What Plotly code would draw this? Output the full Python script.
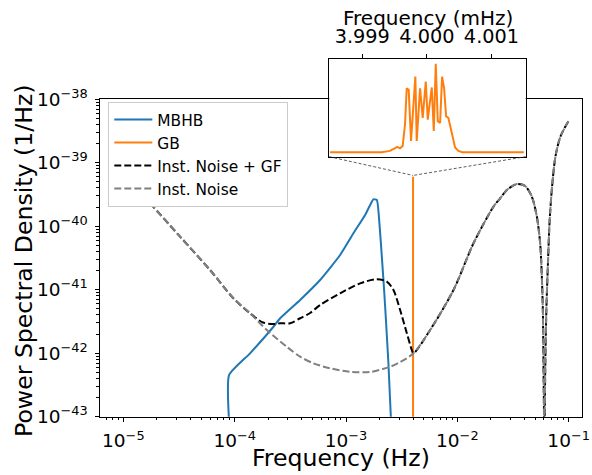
import math
import plotly.graph_objects as go

# ---------------- data ----------------
# Instrument noise PSD (gray dashed)
noise_f = [1.0e-5, 1.738e-5, 3.231e-5, 6.01e-5, 9.73e-5, 1.375e-4, 1.942e-4, 2.938e-4,
           3.869e-4, 5.095e-4, 7.196e-4, 1.088e-3, 1.646e-3, 2.489e-3, 3.06e-3,
           4.033e-3, 5.697e-3, 9.23e-3, 1.396e-2, 2.110e-2, 2.424e-2, 2.784e-2,
           3.424e-2, 4.065e-2, 4.67e-2, 5.18e-2, 5.545e-2, 5.74e-2, 5.86e-2, 5.936e-2,
           6.05e-2, 6.174e-2, 6.303e-2, 6.53e-2, 6.75e-2, 7.095e-2, 7.60e-2, 8.42e-2,
           9.96e-2]
noise_psd = [6.73e-40, 2.30e-40, 6.84e-41, 2.04e-41, 7.33e-42, 4.25e-42, 2.32e-42, 1.26e-42,
             8.81e-43, 6.93e-43, 5.78e-43, 5.11e-43, 5.06e-43, 6.12e-43, 7.26e-43,
             9.96e-43, 2.32e-42, 9.88e-42, 5.38e-41, 2.03e-40, 2.75e-40, 3.72e-40,
             4.62e-40, 4.30e-40, 2.92e-40, 1.41e-40, 5.38e-41, 1.60e-41, 4.79e-42, 7.81e-43,
             5.0e-44, 7.81e-43, 4.79e-42, 2.94e-41, 1.25e-40, 4.19e-40, 1.24e-39, 2.56e-39,
             4.54e-39]

# Instrument noise + galactic foreground (black dashed): middle part differs
gf_mid_f = [1.799e-4, 2.227e-4, 2.558e-4, 3.146e-4, 3.869e-4, 4.757e-4, 5.852e-4, 8.85e-4,
            1.338e-3, 1.891e-3, 2.326e-3, 2.667e-3, 3.062e-3, 3.518e-3, 3.902e-3]
gf_mid_psd = [3.04e-42, 2.88e-42, 2.96e-42, 2.96e-42, 3.55e-42, 4.30e-42, 5.74e-42, 8.77e-42,
              1.26e-41, 1.46e-41, 1.34e-41, 9.88e-42, 4.79e-42, 2.06e-42, 1.12e-42]

# MBHB signal PSD (blue)
mbhb_f = [8.90e-5, 8.91e-5, 1.374e-4, 2.23e-4, 2.56e-4, 3.87e-4, 5.85e-4, 8.85e-4, 1.165e-3,
          1.484e-3, 1.646e-3, 1.762e-3, 1.891e-3, 1.995e-3, 2.097e-3, 2.199e-3, 2.292e-3,
          2.403e-3, 2.527e-3, 2.55e-3]
mbhb_psd = [8.5e-44, 4.54e-43, 9.96e-43, 2.61e-42, 3.55e-42, 6.89e-42, 1.42e-41, 3.52e-41,
            7.73e-41, 1.50e-40, 2.16e-40, 2.65e-40, 2.59e-40, 1.11e-40, 3.31e-41, 9.88e-42,
            2.96e-42, 6.93e-43, 1.0e-43, 8.0e-44]

# Galactic binary PSD (orange), frequency in mHz
gb_f_mhz = [3.998500, 3.999300, 3.999429, 3.999507, 3.999543, 3.999584, 3.999626, 3.999662,
            3.999688, 3.999719, 3.999755, 3.999822, 3.999843, 3.999895, 3.999936, 3.999983,
            4.000014, 4.000076, 4.000107, 4.000138, 4.000169, 4.000205, 4.000236, 4.000267,
            4.000298, 4.000333, 4.000386, 4.000437, 4.000488, 4.000550, 4.001500]
gb_psd = [1e-47, 1e-47, 0.094e-40, 0.27e-40, 0.36e-40, 0.27e-40, 0.43e-40, 1.88e-40,
          4.34e-40, 4.23e-40, 0.77e-40, 5.13e-40, 0.77e-40, 4.34e-40, 2.33e-40, 4.79e-40,
          2.21e-40, 4.39e-40, 1.44e-40, 6.00e-40, 2.11e-40, 1.99e-40, 5.13e-40, 4.34e-40,
          2.44e-40, 2.33e-40, 1.32e-40, 0.32e-40, 0.09e-40, 1e-47, 1e-47]

x_tick_exp = [-5, -4, -3, -2, -1]
y_tick_exp = [-43, -42, -41, -40, -39, -38]
inset_ticks = [3.999, 4.000, 4.001]

# black curve: shares the noise curve outside the foreground region
n_left = sum(1 for f in noise_f if f < gf_mid_f[0])
n_right = sum(1 for f in noise_f if f <= gf_mid_f[-1])
gf_f = noise_f[:n_left] + gf_mid_f + noise_f[n_right:]
gf_psd = noise_psd[:n_left] + gf_mid_psd + noise_psd[n_right:]
gb_f_hz = [v / 1000.0 for v in gb_f_mhz]

# ---------------- layout geometry ----------------
W, H = 592, 475
xr = [-5.21, -0.883]
yr = [-43, -38]
xdom = [100 / W, 581.7 / W]
ydom = [(H - 416.7) / H, (H - 99.2) / H]
ixdom = [329.3 / W, 525.7 / W]
iydom = [(H - 156.7) / H, (H - 59.3) / H]
gmin, gmax = min(gb_psd), max(gb_psd)
span = gmax - gmin
iyr = [gmin - 0.05 * span, gmax + 0.05 * span]
ixr = [3.99849, 4.00153]

FONT = "DejaVu Sans"
BLUE, ORANGE = "#1f77b4", "#ff7f0e"

fig = go.Figure()
fig.add_trace(go.Scatter(x=mbhb_f, y=mbhb_psd, mode="lines", name="MBHB",
                         line=dict(color=BLUE, width=2, shape="spline", smoothing=0.5)))
fig.add_trace(go.Scatter(x=gb_f_hz, y=gb_psd, mode="lines", name="GB",
                         line=dict(color=ORANGE, width=2)))
fig.add_trace(go.Scatter(x=gf_f, y=gf_psd, mode="lines", name="Inst. Noise + GF",
                         line=dict(color="black", width=2, dash="7px,3px", shape="spline", smoothing=0.8)))
fig.add_trace(go.Scatter(x=noise_f, y=noise_psd, mode="lines", name="Inst. Noise",
                         line=dict(color="gray", width=2, dash="7px,3px", shape="spline", smoothing=0.8)))
fig.add_trace(go.Scatter(x=gb_f_mhz, y=gb_psd, mode="lines", showlegend=False,
                         line=dict(color=ORANGE, width=2), xaxis="x2", yaxis="y2"))


def sup(e):
    return "10<sup>" + ("\u2212" if e < 0 else "") + str(abs(e)) + "</sup>"


def minor_vals(lo, hi):
    vals = []
    for e in range(lo, hi + 1):
        for k in range(2, 10):
            vals.append(k * 10.0 ** e)
    return vals


axis_common = dict(showline=True, linecolor="black", linewidth=1, mirror=True,
                   ticks="outside", ticklen=4.5, tickwidth=1, tickcolor="black",
                   showgrid=False, zeroline=False, automargin=False)

fig.update_layout(
    width=W, height=H,
    margin=dict(l=0, r=0, t=0, b=0, autoexpand=False),
    paper_bgcolor="white", plot_bgcolor="white",
    template="none",
    font=dict(family=FONT, color="black", size=15.4),
    xaxis=dict(type="log", range=xr, domain=xdom, anchor="y",
               tickvals=[10.0 ** e for e in x_tick_exp],
               ticktext=[sup(e) for e in x_tick_exp],
               tickfont=dict(size=18.5), ticklabelstandoff=3,
               minor=dict(tickvals=minor_vals(-6, 0), ticks="outside", ticklen=2.6,
                          tickwidth=0.8, tickcolor="black"),
               **axis_common),
    yaxis=dict(type="log", range=yr, domain=ydom, anchor="x",
               tickvals=[10.0 ** e for e in y_tick_exp],
               ticktext=[sup(e) for e in y_tick_exp],
               tickfont=dict(size=18.5), ticklabelstandoff=3,
               minor=dict(tickvals=minor_vals(-44, -38), ticks="outside", ticklen=2.6,
                          tickwidth=0.8, tickcolor="black"),
               **axis_common),
    xaxis2=dict(range=ixr, domain=ixdom, anchor="y2", side="top",
                tickvals=inset_ticks, ticktext=["%.3f" % v for v in inset_ticks],
                tickfont=dict(size=19.3), ticklabelstandoff=3,
                **axis_common),
    yaxis2=dict(range=iyr, domain=iydom, anchor="x2", showticklabels=False,
                showline=True, linecolor="black", linewidth=1, mirror=True,
                ticks="", showgrid=False, zeroline=False, automargin=False),
    legend=dict(x=108.3 / W, y=(H - 102) / H, xanchor="left", yanchor="top",
                bgcolor="white", bordercolor="#cccccc", borderwidth=1,
                font=dict(family=FONT, size=15.4), traceorder="normal", itemwidth=38),
    showlegend=True,
)

# axis titles
fig.add_annotation(text="Frequency (Hz)", xref="paper", yref="paper",
                   x=(xdom[0] + xdom[1]) / 2, y=(H - 458) / H, xanchor="center", yanchor="middle",
                   showarrow=False, font=dict(size=23.6))
fig.add_annotation(text="Power Spectral Density (1/Hz)", xref="paper", yref="paper",
                   x=24 / W, y=(ydom[0] + ydom[1]) / 2 - 3 / H, xanchor="center", yanchor="middle",
                   textangle=-90, showarrow=False, font=dict(size=23.6))
fig.add_annotation(text="Frequency (mHz)", xref="paper", yref="paper",
                   x=(ixdom[0] + ixdom[1]) / 2, y=(H - 17.5) / H, xanchor="center", yanchor="middle",
                   showarrow=False, font=dict(size=20))


# connector lines of the zoom indicator (from inset lower corners to the zoomed point)
def to_paper_x(f):
    return xdom[0] + (math.log10(f) - xr[0]) / (xr[1] - xr[0]) * (xdom[1] - xdom[0])


def to_paper_y(p):
    return ydom[0] + (math.log10(p) - yr[0]) / (yr[1] - yr[0]) * (ydom[1] - ydom[0])


px = to_paper_x(sum(gb_f_hz) / len(gb_f_hz))
py = to_paper_y(iyr[1])
for cx in ixdom:
    fig.add_shape(type="line", xref="paper", yref="paper", x0=cx, y0=iydom[0], x1=px, y1=py,
                  line=dict(color="#333333", width=0.8, dash="3px,2px"), layer="above")

fig.write_html("out.html", config={"displayModeBar": False},
               post_script="document.body.style.margin='0';document.body.style.overflow='hidden';")
